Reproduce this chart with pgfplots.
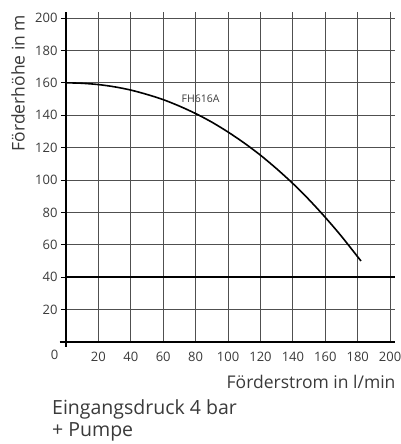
\documentclass[border=0pt]{standalone}
\usepackage{pgfplots}
\pgfplotsset{compat=1.18}
\usepackage{fontspec}
\setmainfont{Open Sans}
\definecolor{txt}{HTML}{3A3A3A}
\definecolor{gridc}{HTML}{505050}
\begin{document}
\begin{tikzpicture}
\begin{axis}[name=ax, scale only axis, width=329pt, height=330pt,
  xmin=0, xmax=203, ymin=0, ymax=203.7,
  axis x line*=bottom, axis y line*=left,
  axis line style={line width=1.8pt, -},
  xtick={20,40,...,200}, ytick={20,40,...,200},
  grid=major, grid style={gridc, line width=0.9pt},
  /pgf/number format/assume math mode=true,
  tick label style={font=\fontsize{13}{15}\selectfont, text=txt},
  xtick style={draw=none},
  ytick style={black, line width=0.9pt},
  tick align=outside, major tick length=5pt,
  xticklabel style={yshift=-2pt},
  clip=false]
\addplot[black, line width=1.6pt] coordinates {(0,40) (203,40)};
\addplot[black, line width=1.6pt, smooth] coordinates {
  (0,160) (10,159.7) (20,158.9) (30,157.5) (40,155.5) (50,152.8) (60,149.6)
  (70,145.6) (80,141.0) (90,135.7) (100,129.6) (110,122.8) (120,115.3)
  (130,106.9) (140,97.8) (150,87.8) (160,76.9) (170,65.2) (182,50.0)};
\draw[line width=1.8pt] (axis cs:-4,0) -- (axis cs:0,0) -- (axis cs:0,-3);
\node[font=\fontsize{10.5}{12}\selectfont, text=txt] at (axis cs:83,150) {FH616A};
\node[font=\fontsize{13}{15}\selectfont, text=txt] at (axis cs:-7,-8) {0};
\end{axis}
\node[rotate=90, font=\fontsize{17.5}{20}\selectfont, text=txt] at ([shift={(-48pt,259pt)}]ax.south west) {Förderhöhe in m};
\node[anchor=east, font=\fontsize{17.5}{20}\selectfont, text=txt] at ([shift={(4pt,-40pt)}]ax.south east) {Förderstrom in l/min};
\node[anchor=north west, align=left, font=\fontsize{19.5}{22}\selectfont, text=txt, inner sep=0pt] at ([shift={(-14pt,-57pt)}]ax.south west) {Eingangsdruck 4 bar\\+ Pumpe};
\pgfresetboundingbox
\path[use as bounding box] ([shift={(-66pt,-102pt)}]ax.south west) rectangle ([shift={(6pt,12pt)}]ax.north east);
\end{tikzpicture}
\end{document}
